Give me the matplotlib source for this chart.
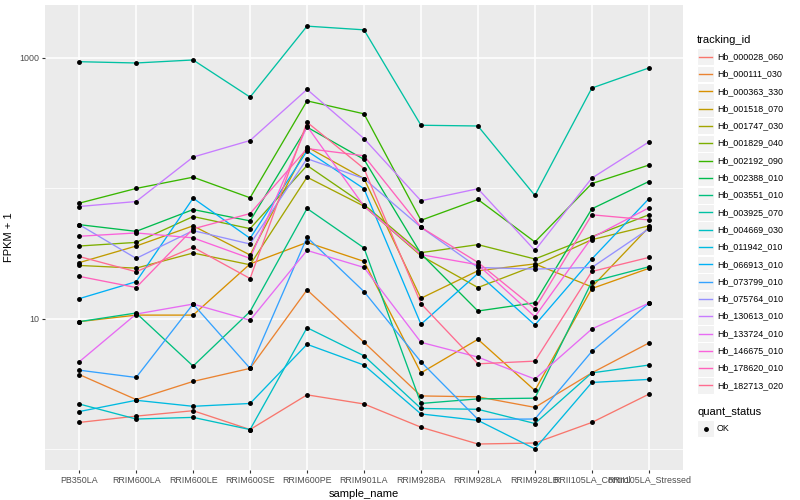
import numpy as np
import matplotlib.pyplot as plt
from matplotlib.patches import Rectangle
from matplotlib.lines import Line2D
from matplotlib.ticker import FixedLocator, NullFormatter

plt.rcParams['font.family'] = ['Liberation Sans', 'DejaVu Sans']

# x categories
samples = ["PB350LA", "RRIM600LA", "RRIM600LE", "RRIM600SE", "RRIM600PE",
           "RRIM901LA", "RRIM928BA", "RRIM928LA", "RRIM928LB",
           "RRII105LA_Control", "RRII105LA_Stressed"]

tracking_ids = ["Hb_000028_060", "Hb_000111_030", "Hb_000363_330", "Hb_001518_070",
                "Hb_001747_030", "Hb_001829_040", "Hb_002192_090", "Hb_002388_010",
                "Hb_003551_010", "Hb_003925_070", "Hb_004669_030", "Hb_011942_010",
                "Hb_066913_010", "Hb_073799_010", "Hb_075764_010", "Hb_130613_010",
                "Hb_133724_010", "Hb_146675_010", "Hb_178620_010", "Hb_182713_020"]

# ggplot hue palette for 20 groups
colors = ["#F8766D", "#EA8331", "#D89000", "#C09B00", "#A3A500", "#7CAE00", "#39B600",
          "#00BB4E", "#00BF7D", "#00C1A3", "#00BFC4", "#00BAE0", "#00B0F6", "#35A2FF",
          "#9590FF", "#C77CFF", "#E76BF3", "#FA62DB", "#FF62BC", "#FF6C90"]

# FPKM + 1 per sample
hb_000028_060 = [1.61, 1.80, 1.98, 1.42, 2.62, 2.23, 1.48, 1.10, 1.12, 1.61, 2.65]
hb_000111_030 = [3.75, 2.41, 3.32, 4.18, 16.7, 6.62, 2.57, 2.53, 2.10, 3.86, 6.54]
hb_000363_330 = [9.53, 10.7, 10.7, 26.4, 38.6, 27.6, 3.86, 6.98, 2.83, 17.1, 24.4]
hb_001518_070 = [27.0, 36.2, 51.7, 30.9, 208, 119, 14.4, 23.4, 26.4, 17.6, 50.4]
hb_001747_030 = [25.7, 24.5, 32.0, 26.0, 122, 73.1, 30.5, 17.4, 25.6, 40.5, 51.7]
hb_001829_040 = [36.2, 38.6, 60.9, 49.2, 150, 75.3, 32.2, 37.1, 28.8, 42.7, 62.8]
hb_002192_090 = [77.1, 100, 122, 84.8, 469, 373, 57.0, 82.3, 38.9, 109, 151]
hb_002388_010 = [52.8, 46.9, 68.9, 56.4, 295, 167, 31.6, 11.5, 13.3, 69.8, 113]
hb_003551_010 = [9.53, 11.1, 4.35, 11.4, 70.2, 35.0, 2.25, 2.44, 2.47, 19.3, 25.1]
hb_003925_070 = [936, 915, 965, 501, 1753, 1642, 305, 301, 88.4, 588, 838]
hb_004669_030 = [2.23, 1.71, 1.76, 1.42, 8.57, 5.22, 2.06, 2.03, 1.58, 3.86, 4.43]
hb_011942_010 = [1.95, 2.38, 2.14, 2.25, 6.39, 4.43, 1.87, 1.67, 1.01, 3.26, 3.44]
hb_066913_010 = [14.3, 19.3, 84.2, 41.5, 194, 99.5, 9.10, 22.3, 8.99, 28.8, 83.3]
hb_073799_010 = [4.05, 3.56, 13.0, 4.18, 42.2, 16.2, 4.69, 1.70, 1.71, 5.64, 13.2]
hb_075764_010 = [52.8, 29.1, 47.5, 37.5, 169, 119, 50.4, 24.8, 24.1, 24.8, 49.0]
hb_130613_010 = [72.7, 79.4, 174, 233, 574, 241, 80.4, 99.5, 33.5, 120, 227]
hb_133724_010 = [4.69, 10.9, 13.0, 9.77, 33.5, 24.8, 6.62, 5.10, 3.46, 8.38, 13.2]
hb_146675_010 = [43.0, 45.6, 41.8, 29.1, 300, 73.1, 31.1, 26.0, 10.4, 42.0, 71.0]
hb_178620_010 = [21.2, 17.4, 49.0, 64.2, 202, 178, 50.4, 27.1, 12.0, 62.8, 57.4]
hb_182713_020 = [30.1, 23.0, 35.4, 20.4, 322, 142, 13.1, 4.53, 4.75, 23.1, 29.6]

series = [hb_000028_060, hb_000111_030, hb_000363_330, hb_001518_070, hb_001747_030,
          hb_001829_040, hb_002192_090, hb_002388_010, hb_003551_010, hb_003925_070,
          hb_004669_030, hb_011942_010, hb_066913_010, hb_073799_010, hb_075764_010,
          hb_130613_010, hb_133724_010, hb_146675_010, hb_178620_010, hb_182713_020]

W, H = 800, 500
fig = plt.figure(figsize=(8, 5), dpi=100)
ax = fig.add_axes([45 / W, 30 / H, 638 / W, 465 / H])
ax.set_facecolor('#EBEBEB')
for s in ax.spines.values():
    s.set_visible(False)

x = np.arange(len(samples))
for vals, col in zip(series, colors):
    ax.plot(x, vals, color=col, lw=0.95, zorder=3)
for vals in series:
    ax.plot(x, vals, 'o', color='black', ms=2.5, zorder=4)

# axis ranges like ggplot (5% in log space, 0.6 for discrete)
allv = np.log10(np.concatenate([np.array(v) for v in series]))
lo, hi = allv.min(), allv.max()
pad = (hi - lo) * 0.05
ax.set_yscale('log')
ax.set_ylim(10 ** (lo - pad), 10 ** (hi + pad))
ax.set_xlim(-0.6, len(samples) - 0.4)

ax.set_xticks(x)
ax.set_xticklabels(samples)
ax.set_yticks([10, 1000])
ax.set_yticklabels(['10', '1000'])
ax.yaxis.set_minor_locator(FixedLocator([1, 100]))
ax.yaxis.set_minor_formatter(NullFormatter())
ax.tick_params(which='major', length=2.2, width=0.8, color='#333333',
               labelsize=6.4, labelcolor='#4D4D4D', pad=1.8)
ax.tick_params(which='minor', length=0)
ax.grid(which='major', color='white', lw=1.1, zorder=0)
ax.grid(which='minor', axis='y', color='white', lw=0.55, zorder=0)
ax.set_axisbelow(True)
ax.set_xlabel('sample_name', fontsize=8, labelpad=3)
ax.set_ylabel('FPKM + 1', fontsize=8, labelpad=4)


def fx(px):
    return px / W


def fy(py):
    return 1 - py / H


# legend: tracking_id
fig.text(fx(697), fy(40), 'tracking_id', fontsize=8, va='center', ha='left')
for i, (tid, col) in enumerate(zip(tracking_ids, colors)):
    yc = 56.7 + i * 17.3
    fig.add_artist(Rectangle((fx(697), fy(yc + 8.4)), 17 / W, 16.8 / H,
                             transform=fig.transFigure, facecolor='#F2F2F2',
                             edgecolor='white', lw=0.8))
    fig.add_artist(Line2D([fx(699), fx(712)], [fy(yc), fy(yc)],
                          transform=fig.transFigure, color=col, lw=1.0))
    fig.text(fx(717), fy(yc), tid, fontsize=6.4, va='center', ha='left')

# legend: quant_status
fig.text(fx(697), fy(412), 'quant_status', fontsize=8, va='center', ha='left')
fig.add_artist(Rectangle((fx(697), fy(428.5 + 8.4)), 17 / W, 16.8 / H,
                         transform=fig.transFigure, facecolor='#F2F2F2',
                         edgecolor='white', lw=0.8))
fig.add_artist(Line2D([fx(705.5)], [fy(428.5)], transform=fig.transFigure,
                      marker='o', color='black', ms=2.5, lw=0))
fig.text(fx(717), fy(428.5), 'OK', fontsize=6.4, va='center', ha='left')

fig.savefig('out.png', dpi=100, facecolor='white')
